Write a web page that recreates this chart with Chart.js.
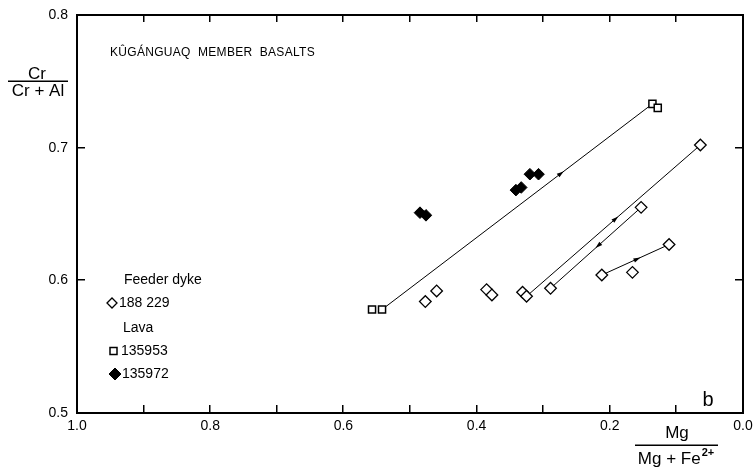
<!DOCTYPE html>
<html>
<head>
<meta charset="utf-8">
<script src="https://cdn.jsdelivr.net/npm/chart.js@4"></script>
<style>
html, body { margin: 0; padding: 0; background: #fff; }
</style>
</head>
<body>
<canvas id="cpxChart" width="753" height="471"></canvas>
<script>
// Kugánguaq member basalts: Cr/(Cr+Al) against Mg/(Mg+Fe2+)

const dykeMg = [0.477, 0.460, 0.385, 0.377, 0.331, 0.325, 0.289, 0.212, 0.166, 0.111, 0.153, 0.064];
const dykeCr = [0.584, 0.592, 0.593, 0.589, 0.591, 0.588, 0.594, 0.604, 0.606, 0.627, 0.655, 0.702];

const lava953Mg = [0.557, 0.542, 0.136, 0.128];
const lava953Cr = [0.578, 0.578, 0.733, 0.730];

const lava972Mg = [0.485, 0.476, 0.341, 0.333, 0.320, 0.307];
const lava972Cr = [0.651, 0.649, 0.668, 0.670, 0.680, 0.680];

// trend lines (from -> to) and where the small arrow sits on each
const trendFromMg = [0.542, 0.325, 0.289, 0.212];
const trendFromCr = [0.578, 0.588, 0.594, 0.604];
const trendToMg = [0.136, 0.064, 0.153, 0.111];
const trendToCr = [0.733, 0.702, 0.655, 0.627];
const arrowAt = [0.66, 0.51, 0.53, 0.52];
const arrowDir = [1, 1, -1, 1];

const xTickLabels = [1.0, 0.8, 0.6, 0.4, 0.2, 0.0];
const yTickLabels = [0.5, 0.6, 0.7, 0.8];

const FONT = '"Liberation Sans", Arial, sans-serif';

function pts(xs, ys) {
    return xs.map((x, i) => ({ x: x, y: ys[i] }));
}

const markerSets = [
    { label: '188 229', data: pts(dykeMg, dykeCr), pointStyle: 'rectRot', pointRadius: 5.8,
      backgroundColor: '#fff', borderColor: '#000', borderWidth: 1.3, showLine: false },
    { label: '135953', data: pts(lava953Mg, lava953Cr), pointStyle: 'rect', pointRadius: 5,
      backgroundColor: '#fff', borderColor: '#000', borderWidth: 1.5, showLine: false },
    { label: '135972', data: pts(lava972Mg, lava972Cr), pointStyle: 'rectRot', pointRadius: 5.8,
      backgroundColor: '#000', borderColor: '#000', borderWidth: 1, showLine: false }
];

const lineSets = trendFromMg.map((m, i) => ({
    label: 'trend ' + (i + 1),
    data: [{ x: m, y: trendFromCr[i] }, { x: trendToMg[i], y: trendToCr[i] }],
    showLine: true,
    pointRadius: 0,
    borderColor: '#000',
    borderWidth: 1,
    fill: false
}));

function diamond(ctx, x, y, r, filled) {
    ctx.beginPath();
    ctx.moveTo(x - r, y);
    ctx.lineTo(x, y - r);
    ctx.lineTo(x + r, y);
    ctx.lineTo(x, y + r);
    ctx.closePath();
    if (filled) ctx.fill();
    ctx.stroke();
}

const decorPlugin = {
    id: 'decor',
    afterDraw(chart) {
        const ctx = chart.ctx;
        const a = chart.chartArea;
        const sx = chart.scales.x, sy = chart.scales.y;
        const L = Math.round(a.left), R = Math.round(a.right);
        const T = Math.round(a.top), B = Math.round(a.bottom);
        ctx.save();
        ctx.fillStyle = '#000';

        // frame, as filled strips
        ctx.fillRect(L - 1, T - 1, R - L + 2, 2);
        ctx.fillRect(L - 1, B - 1, R - L + 2, 2);
        ctx.fillRect(L - 1, T - 1, 2, B - T + 2);
        ctx.fillRect(R - 1, T - 1, 2, B - T + 2);

        // inward ticks
        sx.ticks.forEach(t => {
            const px = Math.round(sx.getPixelForValue(t.value));
            ctx.fillRect(px - 1, B - 8, 1.5, 8);
            ctx.fillRect(px - 1, T, 1.5, 7);
        });
        sy.ticks.forEach(t => {
            const py = Math.round(sy.getPixelForValue(t.value));
            ctx.fillRect(L, py - 1, 8, 1.5);
            ctx.fillRect(R - 8, py - 1, 8, 1.5);
        });

        ctx.strokeStyle = '#000';
        // arrows on trend lines
        trendFromMg.forEach((m, i) => {
            const x0 = sx.getPixelForValue(m), y0 = sy.getPixelForValue(trendFromCr[i]);
            const x1 = sx.getPixelForValue(trendToMg[i]), y1 = sy.getPixelForValue(trendToCr[i]);
            const px = x0 + (x1 - x0) * arrowAt[i], py = y0 + (y1 - y0) * arrowAt[i];
            const len = Math.hypot(x1 - x0, y1 - y0);
            const ux = (x1 - x0) / len * arrowDir[i], uy = (y1 - y0) / len * arrowDir[i];
            ctx.beginPath();
            ctx.moveTo(px + ux * 4, py + uy * 4);
            ctx.lineTo(px - ux * 3 - uy * 2.2, py - uy * 3 + ux * 2.2);
            ctx.lineTo(px - ux * 3 + uy * 2.2, py - uy * 3 - ux * 2.2);
            ctx.closePath();
            ctx.fill();
        });

        // title inside plot
        ctx.textBaseline = 'middle';
        ctx.textAlign = 'left';
        ctx.font = '12px ' + FONT;
        ctx.letterSpacing = '0.3px';
        ctx.fillText('KÛGÁNGUAQ  MEMBER  BASALTS', 110, 53);
        ctx.letterSpacing = '0px';

        // legend
        ctx.font = '14px ' + FONT;
        ctx.fillText('Feeder dyke', 124, 280);
        ctx.fillText('188 229', 119, 303);
        ctx.fillText('Lava', 123, 328);
        ctx.fillText('135953', 121, 351);
        ctx.fillText('135972', 122, 374);
        ctx.lineWidth = 1.3;
        ctx.fillStyle = '#fff';
        diamond(ctx, 112, 303, 5, true);
        ctx.fillRect(110, 347.5, 7, 7);
        ctx.lineWidth = 1.5;
        ctx.strokeRect(110, 347.5, 7, 7);
        ctx.fillStyle = '#000';
        ctx.lineWidth = 1;
        diamond(ctx, 115, 374, 6, true);

        // panel letter
        ctx.font = '20px ' + FONT;
        ctx.textAlign = 'center';
        ctx.fillText('b', 708, 400);

        // y-axis title as a fraction
        ctx.font = '17px ' + FONT;
        ctx.fillText('Cr', 37, 74);
        ctx.fillText('Cr + Al', 38, 91);
        ctx.fillRect(8, 80.5, 60, 1.5);

        // x-axis title as a fraction
        ctx.fillText('Mg', 677, 433);
        ctx.fillRect(635, 444.5, 83, 1.5);
        ctx.textAlign = 'left';
        const base = 'Mg + Fe';
        const w = ctx.measureText(base).width;
        ctx.font = 'bold 11px ' + FONT;
        const ws = ctx.measureText('2+').width;
        const startX = 676 - (w + ws + 1) / 2;
        ctx.font = '17px ' + FONT;
        ctx.fillText(base, startX, 459);
        ctx.font = 'bold 11px ' + FONT;
        ctx.fillText('2+', startX + w + 1, 453);

        ctx.restore();
    }
};

const ctx = document.getElementById('cpxChart').getContext('2d');
new Chart(ctx, {
    type: 'scatter',
    data: { datasets: markerSets.concat(lineSets) },
    options: {
        responsive: false,
        animation: false,
        layout: { padding: { top: 15, right: 10, left: 0, bottom: 0 } },
        plugins: {
            legend: { display: false },
            tooltip: { enabled: false }
        },
        scales: {
            x: {
                type: 'linear',
                min: 0,
                max: 1,
                reverse: true,
                grid: { display: false, drawTicks: false },
                border: { display: false },
                ticks: {
                    stepSize: 0.1,
                    autoSkip: false,
                    maxRotation: 0,
                    padding: 5,
                    color: '#000',
                    font: { family: FONT, size: 14 },
                    callback: v => xTickLabels.some(t => Math.abs(t - v) < 1e-6) ? v.toFixed(1) : ''
                },
                afterFit: s => { s.height = 58; s.paddingLeft = 0; s.paddingRight = 0; }
            },
            y: {
                type: 'linear',
                min: 0.5,
                max: 0.8,
                grid: { display: false, drawTicks: false },
                border: { display: false },
                ticks: {
                    stepSize: 0.1,
                    padding: 9,
                    color: '#000',
                    font: { family: FONT, size: 14 },
                    callback: v => yTickLabels.some(t => Math.abs(t - v) < 1e-6) ? v.toFixed(1) : ''
                },
                afterFit: s => { s.width = 77; s.paddingTop = 0; s.paddingBottom = 0; }
            }
        }
    },
    plugins: [decorPlugin]
});
</script>
</body>
</html>
